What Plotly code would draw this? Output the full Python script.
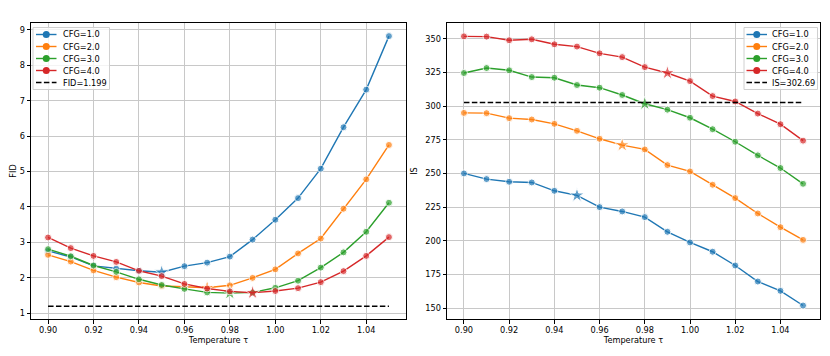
import plotly.graph_objects as go
from plotly.subplots import make_subplots

temps = [0.90, 0.91, 0.92, 0.93, 0.94, 0.95, 0.96, 0.97,
         0.98, 0.99, 1.00, 1.01, 1.02, 1.03, 1.04, 1.05]
cfg_labels = ["CFG=1.0", "CFG=2.0", "CFG=3.0", "CFG=4.0"]

fid_cfg1 = [2.76, 2.59, 2.34, 2.26, 2.20, 2.16, 2.33, 2.43,
            2.60, 3.08, 3.64, 4.25, 5.08, 6.25, 7.31, 8.82]
fid_cfg2 = [2.65, 2.46, 2.21, 2.02, 1.87, 1.77, 1.75, 1.72,
            1.79, 2.00, 2.24, 2.69, 3.11, 3.95, 4.78, 5.75]
fid_cfg3 = [2.81, 2.61, 2.35, 2.17, 1.96, 1.80, 1.69, 1.59,
            1.57, 1.59, 1.72, 1.92, 2.29, 2.72, 3.30, 4.12]
fid_cfg4 = [3.14, 2.84, 2.62, 2.45, 2.20, 2.05, 1.83, 1.70,
            1.62, 1.58, 1.63, 1.71, 1.88, 2.19, 2.62, 3.15]

is_cfg1 = [250.0, 245.8, 243.8, 243.3, 237.1, 233.7, 225.0, 221.8,
           217.6, 206.7, 198.8, 191.9, 181.7, 169.8, 162.9, 152.0]
is_cfg2 = [294.9, 294.7, 291.0, 290.0, 286.8, 281.6, 275.7, 271.0,
           267.8, 256.2, 251.5, 241.6, 231.7, 220.3, 210.1, 200.7]
is_cfg3 = [324.5, 328.2, 326.5, 321.5, 321.0, 315.6, 313.6, 308.2,
           301.7, 297.3, 291.3, 282.8, 273.5, 263.4, 254.0, 242.3]
is_cfg4 = [351.7, 351.5, 348.8, 349.5, 345.8, 344.1, 339.1, 336.3,
           328.9, 324.5, 318.5, 307.4, 303.4, 294.4, 286.5, 274.3]

# index of the best temperature per cfg (drawn as a star)
best_idx = [5, 7, 8, 9]

fid_ref = 1.199
is_ref = 302.69

colors = ["#1f77b4", "#ff7f0e", "#2ca02c", "#d62728"]
font = dict(family="DejaVu Sans", size=8.2, color="black")
dash = "5.5px,2.4px"

# the page body has an 8px margin, so the figure is drawn 8px in from the
# window corner; all pixel positions below are window pixels minus OFF
OFF = 8
W, H = 814, 340
T, B = 15, 29

fig = make_subplots(rows=1, cols=2)


def add_series(values, col):
    for i, vals in enumerate(values):
        symbols = ["star" if j == best_idx[i] else "circle" for j in range(len(temps))]
        sizes = [11 if j == best_idx[i] else 7 for j in range(len(temps))]
        fig.add_trace(
            go.Scatter(
                x=temps, y=vals, mode="lines+markers", showlegend=False,
                line=dict(color=colors[i], width=1.4),
                marker=dict(color=colors[i], symbol=symbols, size=sizes),
            ),
            row=1, col=col,
        )


add_series([fid_cfg1, fid_cfg2, fid_cfg3, fid_cfg4], 1)
fig.add_trace(
    go.Scatter(x=[temps[0], temps[-1]], y=[fid_ref, fid_ref], mode="lines",
               showlegend=False, line=dict(color="black", dash=dash, width=1.5)),
    row=1, col=1,
)
add_series([is_cfg1, is_cfg2, is_cfg3, is_cfg4], 2)
fig.add_trace(
    go.Scatter(x=[temps[0], temps[-1]], y=[is_ref, is_ref], mode="lines",
               showlegend=False, line=dict(color="black", dash=dash, width=1.5)),
    row=1, col=2,
)

axis_style = dict(
    showline=True, linecolor="black", linewidth=1, mirror=True,
    ticks="outside", ticklen=3.5, tickcolor="black", tickwidth=0.8,
    showgrid=True, gridcolor="#c8c8c8", gridwidth=1, zeroline=False,
    tickfont=font, title_font=font, automargin=False,
)

fig.update_xaxes(**axis_style)
fig.update_yaxes(**axis_style)

tick_x = [0.90, 0.92, 0.94, 0.96, 0.98, 1.00, 1.02, 1.04]
fig.update_xaxes(domain=[(31 - OFF) / W, (406 - OFF) / W], range=[0.8925, 1.0575],
                 tickvals=tick_x, tickformat=".2f",
                 title_text="Temperature τ", title_standoff=2, row=1, col=1)
fig.update_xaxes(domain=[(447 - OFF) / W, (820 - OFF) / W], range=[0.8925, 1.0575],
                 tickvals=tick_x, tickformat=".2f",
                 title_text="Temperature τ", title_standoff=2, row=1, col=2)
fig.update_yaxes(range=[0.84, 9.19], dtick=1, title_text="FID",
                 title_standoff=6, row=1, col=1)
fig.update_yaxes(range=[142, 361.6], dtick=25, title_text="IS",
                 title_standoff=6, row=1, col=2)


# hand-drawn legends (window pixel positions converted to paper coords)
def px_x(px):
    return (px - OFF) / W


def px_y(py):
    return (H - B - (py - OFF)) / (H - T - B)


def draw_legend(box, line_x, text_x, labels, ref_label):
    x0, x1, y0, y1 = box
    fig.add_shape(type="rect", xref="paper", yref="paper", layer="above",
                  x0=px_x(x0), x1=px_x(x1), y0=px_y(y1), y1=px_y(y0),
                  line=dict(color="#d0d0d0", width=1),
                  fillcolor="rgba(255,255,255,0.8)")
    rows = [y0 + 7 + 12 * k for k in range(len(labels) + 1)]
    for k, label in enumerate(labels):
        yy = px_y(rows[k])
        fig.add_shape(type="line", xref="paper", yref="paper", layer="above",
                      x0=px_x(line_x[0]), x1=px_x(line_x[1]), y0=yy, y1=yy,
                      line=dict(color=colors[k], width=1.4))
        mx = (line_x[0] + line_x[1]) / 2
        fig.add_shape(type="circle", xref="paper", yref="paper", layer="above",
                      xsizemode="pixel", ysizemode="pixel",
                      xanchor=px_x(mx), yanchor=yy, x0=-3.5, x1=3.5, y0=-3.5, y1=3.5,
                      line=dict(color=colors[k], width=0), fillcolor=colors[k])
        fig.add_annotation(x=px_x(text_x), y=yy, xref="paper", yref="paper",
                           text=label, showarrow=False, xanchor="left",
                           yanchor="middle", borderpad=0, font=font)
    yy = px_y(rows[-1])
    fig.add_shape(type="line", xref="paper", yref="paper", layer="above",
                  x0=px_x(line_x[0]), x1=px_x(line_x[1]), y0=yy, y1=yy,
                  line=dict(color="black", width=1.5, dash=dash))
    fig.add_annotation(x=px_x(text_x), y=yy, xref="paper", yref="paper",
                       text=ref_label, showarrow=False, xanchor="left",
                       yanchor="middle", borderpad=0, font=font)


draw_legend((33, 109.5, 27.5, 89.5), (36, 56.5), 61.5, cfg_labels, f"FID={fid_ref}")
draw_legend((744, 817.5, 27.5, 89.5), (746.5, 767), 771, cfg_labels, f"IS={is_ref}")

fig.update_layout(
    width=W, height=H,
    margin=dict(l=0, r=0, t=T, b=B, autoexpand=False),
    paper_bgcolor="white", plot_bgcolor="white",
    font=font, showlegend=False,
)

fig.write_html("out.html")
